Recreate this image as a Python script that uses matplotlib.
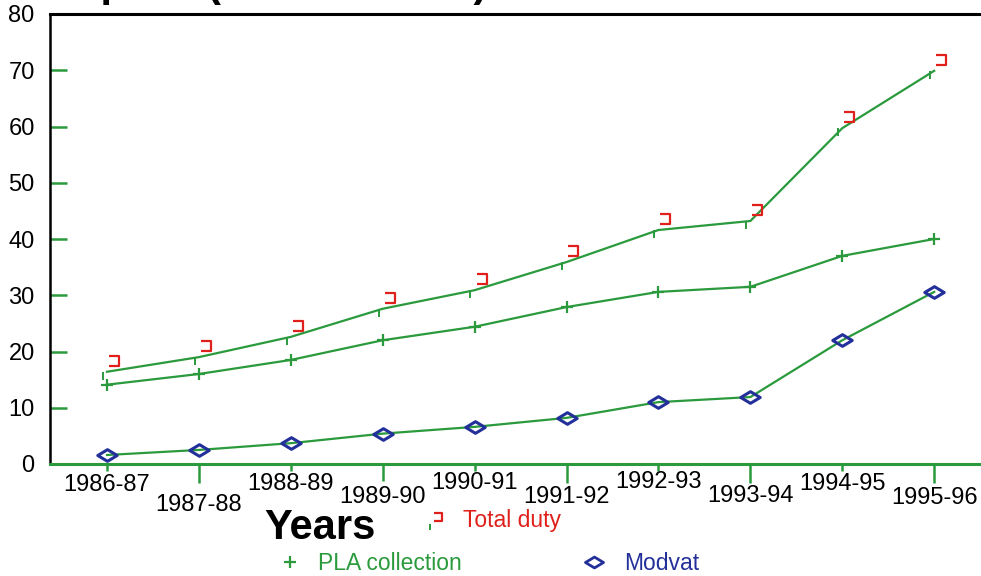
import matplotlib
matplotlib.use("Agg")

import matplotlib.pyplot as plt
import matplotlib.transforms as mtransforms
from matplotlib.path import Path

# Duty figures by financial year
years = ["1986-87", "1987-88", "1988-89", "1989-90", "1990-91",
         "1991-92", "1992-93", "1993-94", "1994-95", "1995-96"]
total_duty = [16.4, 19.0, 22.6, 27.6, 30.9, 35.9, 41.6, 43.2, 59.7, 69.9]
pla_collection = [14.1, 16.0, 18.5, 22.0, 24.4, 27.9, 30.6, 31.5, 37.0, 40.0]
modvat = [1.6, 2.5, 3.7, 5.4, 6.6, 8.2, 11.0, 11.9, 22.0, 30.6]
y_ticks = [0, 10, 20, 30, 40, 50, 60, 70, 80]

# label drop below the axis (pixels) and tick length for each year
label_drop = [21, 41, 20, 33, 19, 33, 18, 32, 20, 34]
tick_len = [5, 14, 5, 12, 5, 14, 5, 14, 5, 14]

GREEN = "#2a9a3c"
RED = "#e0201a"
BLUE = "#24309a"

plt.rcParams['font.family'] = ['Liberation Sans', 'DejaVu Sans']

# open bracket marker used for total duty
bracket = Path([(-1, 1), (1, 1), (1, -1), (-1, -1)],
               [Path.MOVETO, Path.LINETO, Path.LINETO, Path.LINETO])
# flat diamond for modvat
flat_diamond = Path([(-1, 0), (0, 0.6), (1, 0), (0, -0.6), (-1, 0)],
                    [Path.MOVETO, Path.LINETO, Path.LINETO, Path.LINETO, Path.CLOSEPOLY])

fig = plt.figure(figsize=(9.81, 5.76), dpi=100)
ax = fig.add_axes([50 / 981, 1 - 464 / 576, 0.995, 450 / 576])

x = list(range(len(years)))

ax.plot(x, total_duty, color=GREEN, lw=1.6, zorder=3)
tick_off = mtransforms.offset_copy(ax.transData, fig=fig, x=-3, y=-3, units='points')
ax.plot(x, total_duty, ls='none', marker='|', ms=6, mew=1.4, color=GREEN,
        transform=tick_off, zorder=3)
red_off = mtransforms.offset_copy(ax.transData, fig=fig, x=5, y=8, units='points')
ax.plot(x, total_duty, ls='none', marker=bracket, ms=7, mew=1.6, mfc='none',
        mec=RED, transform=red_off, zorder=4)

ax.plot(x, pla_collection, color=GREEN, lw=1.6, marker='+', ms=9, mew=1.6,
        mec=GREEN, zorder=3)

ax.plot(x, modvat, color=GREEN, lw=1.6, zorder=3)
ax.plot(x, modvat, ls='none', marker=flat_diamond, ms=14, mew=2.2, mfc='none',
        mec=BLUE, zorder=4)

ax.set_xlim(-0.62, 10)
ax.set_ylim(0, 80)

ax.spines['right'].set_visible(False)
ax.spines['left'].set_color('black')
ax.spines['left'].set_linewidth(1.8)
ax.spines['top'].set_color('black')
ax.spines['top'].set_linewidth(2.2)
ax.spines['bottom'].set_color(GREEN)
ax.spines['bottom'].set_linewidth(2.2)

ax.set_yticks(y_ticks)
ax.tick_params(axis='y', direction='in', length=12, width=1.8, color=GREEN,
               labelsize=17, pad=11)

ax.set_xticks(x)
ax.set_xticklabels([])
ax.tick_params(axis='x', direction='out', width=1.8, color=GREEN)
for t, length in zip(ax.xaxis.get_major_ticks(), tick_len):
    t.tick1line.set_markersize(length)

# staggered year labels
for xi, name, drop in zip(x, years, label_drop):
    ax.annotate(name, xy=(xi, 0), xycoords=('data', 'axes fraction'),
                xytext=(0, -drop * 0.72), textcoords='offset points',
                ha='center', va='center', fontsize=17, annotation_clip=False)

# heading, mostly running off the top edge
fig.text(45 / 981, 1 + 4 / 576, "Rupees (Rs. in crores)", fontsize=30,
         fontweight='bold', va='baseline', ha='left')

fig.text(320 / 981, 1 - 528 / 576, "Years", fontsize=30, fontweight='bold',
         ha='center', va='center')

# key
ax.plot([438 / 981], [1 - 517 / 576], transform=fig.transFigure, marker=bracket,
        ms=6, mew=1.6, mfc='none', mec=RED, clip_on=False)
ax.plot([430 / 981], [1 - 527 / 576], transform=fig.transFigure, marker='|',
        ms=5, mew=1.4, color=GREEN, clip_on=False)
fig.text(463 / 981, 1 - 520 / 576, "Total duty", fontsize=16.5, color=RED,
         va='center', ha='left')

ax.plot([290 / 981], [1 - 562 / 576], transform=fig.transFigure, marker='+',
        ms=8, mew=1.6, color=GREEN, clip_on=False)
fig.text(318 / 981, 1 - 564 / 576, "PLA collection", fontsize=16.5, color=GREEN,
         va='center', ha='left')

ax.plot([594 / 981], [1 - 562 / 576], transform=fig.transFigure, marker=flat_diamond,
        ms=13, mew=2, mfc='none', mec=BLUE, clip_on=False)
fig.text(624 / 981, 1 - 564 / 576, "Modvat", fontsize=16.5, color=BLUE,
         va='center', ha='left')

fig.savefig("out.png", dpi=100)
